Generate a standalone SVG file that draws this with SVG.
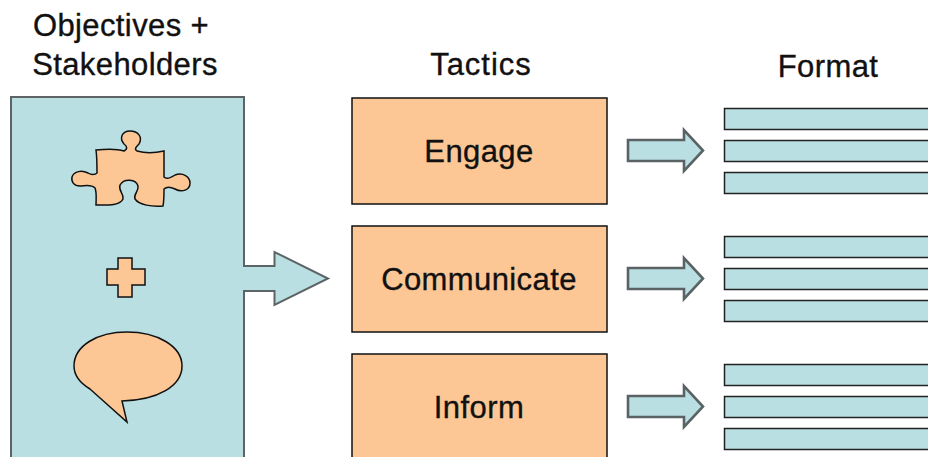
<svg xmlns="http://www.w3.org/2000/svg" width="928" height="457" viewBox="0 0 928 457">
<style>
text{font-family:"Liberation Sans",Arial,sans-serif;fill:#111;stroke:#111;stroke-width:.35;text-anchor:middle;font-size:31px;letter-spacing:.4px}
.b{fill:#b9dfe2;stroke:#222;stroke-width:1.5}
.o{fill:#fdc795;stroke:#111;stroke-width:1.5}
.a{fill:#b9dfe2;stroke:#5a6264;stroke-width:2.6;stroke-linejoin:miter}
</style>
<rect width="928" height="457" fill="#fff"/>
<g id="heading-objectives"><text x="121" y="36">Objectives +</text><text x="125" y="75">Stakeholders</text></g>
<g id="heading-tactics"><text x="481" y="75" style="letter-spacing:1px">Tactics</text></g>
<g id="heading-format"><text x="828" y="77">Format</text></g>
<g id="objectives">
<path d="M11 97H244V266H274.500V252L328 278.500L274.500 305V291H244V458H11Z" fill="#b9dfe2" stroke="none"/>
<path d="M11 458V97H244V266H274.500V252L328 278.500L274.500 305V291H244V458" fill="none" stroke="#5c6466" stroke-width="2"/>
<path id="puzzle" class="o" d="M96 150C105 149 118 149 124 151C128 149 127 146 124 144C119 138 122 131 130 131C138 131 143 137 139 144C136 147 134 149 137 151C144 153 155 153 164 151C164 160 164 170 164 177C167 180 172 177 175 175C183 172 190 177 190 183C190 190 182 193 175 189C171 187 167 186 164 189C164 195 164 201 163 206C152 207 139 205 135 199C133 194 139 192 138 186C136 179 124 178 120 185C118 191 124 193 123 199C120 206 106 205 96 205C96 199 97 193 95 188C91 184 85 186 80 186C74 186 71 182 72 177C74 171 82 170 88 173C91 175 95 175 97 173C97 165 97 157 96 150Z"/>
<path id="plus" class="o" d="M118 258H132V269H145V285H132V297H118V285H107V269H118Z"/>
<path id="speech" class="o" d="M127 332C157 332 182 346 182 366C182 386 158 400 122 401L127 422L90 389C80 383 74 375 74 366C74 346 97 332 127 332Z"/>
</g>
<g id="engage"><rect class="o" x="352" y="98" width="255" height="106"/><text x="479" y="162">Engage</text></g>
<g id="communicate"><rect class="o" x="352" y="226" width="255" height="106"/><text x="479" y="290">Communicate</text></g>
<g id="inform"><path class="o" d="M352 458V354H607V458"/><text x="479" y="418">Inform</text></g>
<g id="connectors">
<path class="a" d="M628 140H684V130L703 150.500L684 171V161H628Z"/>
<path class="a" d="M628 268H684V258L703 278.500L684 299V289H628Z"/>
<path class="a" d="M628 396H684V386L703 406.500L684 427V417H628Z"/>
</g>
<g id="format-engage"><rect class="b" x="724.500" y="108.500" width="210" height="21"/><rect class="b" x="724.500" y="140.500" width="210" height="21"/><rect class="b" x="724.500" y="172.500" width="210" height="21"/></g>
<g id="format-communicate"><rect class="b" x="724.500" y="236.500" width="210" height="21"/><rect class="b" x="724.500" y="268.500" width="210" height="21"/><rect class="b" x="724.500" y="300.500" width="210" height="21"/></g>
<g id="format-inform"><rect class="b" x="724.500" y="364.500" width="210" height="21"/><rect class="b" x="724.500" y="396.500" width="210" height="21"/><rect class="b" x="724.500" y="428.500" width="210" height="21"/></g>
</svg>
